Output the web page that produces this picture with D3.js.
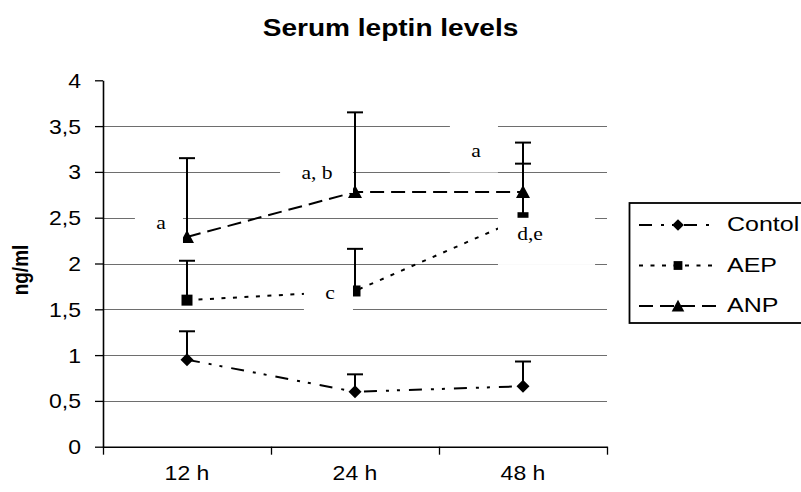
<!DOCTYPE html>
<html>
<head>
<meta charset="utf-8">
<script src="https://cdn.jsdelivr.net/npm/d3@7"></script>
<style>
  html, body { margin: 0; padding: 0; background: #fff; }
  svg { display: block; }
</style>
</head>
<body>
<script>
// ---------- data ----------
const categories = ["12 h", "24 h", "48 h"];
const seriesNames = ["Contol", "AEP", "ANP"];
const controlMean = [0.95, 0.60, 0.66];
const controlErr  = [0.31, 0.19, 0.27];
const aepMean     = [1.60, 1.70, 2.50];
const aepErr      = [0.43, 0.46, 0.59];
const anpMean     = [2.29, 2.78, 2.78];
const anpErr      = [0.86, 0.87, 0.54];
const yTicks = [0, 0.5, 1, 1.5, 2, 2.5, 3, 3.5, 4];
const yTickLabels = ["0", "0,5", "1", "1,5", "2", "2,5", "3", "3,5", "4"];
const titleText = "Serum leptin levels";
const yTitle = "ng/ml";
// significance letters (anchored in data space: category index offset, value)
const annoText = ["a", "a, b", "a", "c", "d,e"];
const annoX    = [-0.155, 0.774, 1.72, 0.851, 2.042];
const annoY    = [2.377, 2.923, 3.163, 1.612, 2.257];
// white label boxes in data space [x0, x1, yTop, yBottom]
const annoBox  = [
  [-0.31, -0.024, 2.73, 2.20],
  [0.554, 0.988, 3.27, 2.77],
  [1.565, 1.851, 3.507, 2.993],
  [0.696, 0.988, 1.962, 1.449],
  [1.851, 2.429, 2.499, 1.984]
];

// ---------- setup ----------
const W = 801, H = 492;
const svg = d3.select("body").append("svg").attr("width", W).attr("height", H);
const SANS = "'Liberation Sans', Arial, Helvetica, sans-serif";
const SERIF = "'Liberation Serif', 'Times New Roman', serif";

const x = d3.scaleBand().domain(categories).range([103, 607]).padding(0);
const xi = d3.scaleLinear().domain([-0.5, 2.5]).range([103, 607]);
const y = d3.scaleLinear().domain([0, 4]).range([446.7, 80.3]);
const cx = c => x(c) + x.bandwidth() / 2;

// ---------- gridlines ----------
svg.append("g").selectAll("line")
  .data(yTicks.filter(d => d > 0 && d < 4))
  .join("line")
  .attr("x1", 103).attr("x2", 607)
  .attr("y1", d => Math.round(y(d)) + 0.5).attr("y2", d => Math.round(y(d)) + 0.5)
  .attr("stroke", "#6e6e6e").attr("stroke-width", 1);

// ---------- axes ----------
const yAxis = svg.append("g").attr("transform", "translate(103,0)")
  .call(d3.axisLeft(y).tickValues(yTicks).tickSize(8).tickSizeOuter(0)
    .tickFormat((d, i) => yTickLabels[i]));
yAxis.select(".domain").attr("stroke", "#000").attr("stroke-width", 1.6);
yAxis.selectAll(".tick line").attr("stroke", "#000").attr("stroke-width", 1.3);
yAxis.selectAll(".tick text")
  .attr("x", null).attr("dy", null)
  .attr("transform", "translate(-22,7) scale(1.15,1)")
  .attr("font-family", SANS).attr("font-size", 20).attr("fill", "#000");

const xAxis = svg.append("g").attr("transform", `translate(0,${y(0)})`)
  .call(d3.axisBottom(xi).tickValues([-0.5, 0.5, 1.5, 2.5]).tickSize(8).tickSizeOuter(0).tickFormat(""));
xAxis.select(".domain").attr("stroke", "#000").attr("stroke-width", 1.6);
xAxis.selectAll(".tick line").attr("stroke", "#000").attr("stroke-width", 1.3);

svg.append("g").selectAll("text").data(categories).join("text")
  .attr("transform", d => `translate(${cx(d)},480) scale(1.15,1)`)
  .attr("text-anchor", "middle")
  .attr("font-family", SANS).attr("font-size", 20).attr("fill", "#000")
  .text(d => d);

// ---------- titles ----------
svg.append("text")
  .attr("transform", "translate(390.5,36) scale(1.22,1)")
  .attr("text-anchor", "middle")
  .attr("font-family", SANS).attr("font-weight", "bold").attr("font-size", 23)
  .text(titleText);

svg.append("text")
  .attr("transform", "translate(28,270) rotate(-90) scale(1,1.15)")
  .attr("text-anchor", "middle")
  .attr("font-family", SANS).attr("font-weight", "bold").attr("font-size", 19)
  .text(yTitle);

// ---------- series ----------
const series = [
  { name: seriesNames[0], mean: controlMean, err: controlErr, dash: "13,9,3,8,3,9", marker: "diamond" },
  { name: seriesNames[1], mean: aepMean, err: aepErr, dash: "4,7.5", marker: "square" },
  { name: seriesNames[2], mean: anpMean, err: anpErr, dash: "14,7", marker: "triangle" }
];

function markerPath(type, px, py, s) {
  const p = d3.path();
  if (type === "diamond") {
    const r = 6.5 * s;
    p.moveTo(px, py - r); p.lineTo(px + r, py); p.lineTo(px, py + r); p.lineTo(px - r, py); p.closePath();
  } else if (type === "square") {
    const r = 5.5 * s;
    p.rect(px - r, py - r, 2 * r, 2 * r);
  } else {
    const hw = 7 * s;
    p.moveTo(px, py - 7 * s); p.lineTo(px + hw, py + 6 * s); p.lineTo(px - hw, py + 6 * s); p.closePath();
  }
  return p.toString();
}

const line = d3.line().x((d, i) => cx(categories[i])).y(d => y(d));

const gSeries = svg.append("g");
series.forEach(s => {
  gSeries.append("path")
    .attr("d", line(s.mean))
    .attr("fill", "none").attr("stroke", "#000").attr("stroke-width", 2)
    .attr("stroke-dasharray", s.dash);
});
// error bars
series.forEach(s => {
  const g = gSeries.append("g");
  s.mean.forEach((m, i) => {
    const px = cx(categories[i]);
    g.append("line").attr("x1", px).attr("x2", px)
      .attr("y1", y(m)).attr("y2", y(m + s.err[i]))
      .attr("stroke", "#000").attr("stroke-width", 2);
    g.append("line").attr("x1", px - 8).attr("x2", px + 8)
      .attr("y1", y(m + s.err[i])).attr("y2", y(m + s.err[i]))
      .attr("stroke", "#000").attr("stroke-width", 2);
  });
});
// markers
series.forEach(s => {
  gSeries.append("g").selectAll("path").data(s.mean).join("path")
    .attr("d", (d, i) => markerPath(s.marker, cx(categories[i]), y(d), 1))
    .attr("fill", "#000");
});

// ---------- annotation boxes & letters ----------
svg.append("g").selectAll("rect").data(annoBox).join("rect")
  .attr("x", d => xi(d[0])).attr("width", d => xi(d[1]) - xi(d[0]))
  .attr("y", d => y(d[2])).attr("height", d => y(d[3]) - y(d[2]))
  .attr("fill", "#fff");

svg.append("g").selectAll("text").data(annoText).join("text")
  .attr("transform", (d, i) => `translate(${xi(annoX[i])},${y(annoY[i])}) scale(1.2,1)`)
  .attr("text-anchor", "middle")
  .attr("font-family", SERIF).attr("font-size", 18).attr("fill", "#000")
  .text(d => d);

// ---------- legend ----------
const lg = svg.append("g");
lg.append("rect").attr("x", 629.5).attr("y", 203).attr("width", 200).attr("height", 120)
  .attr("fill", "#fff").attr("stroke", "#000").attr("stroke-width", 1.8);
const legendRows = d3.scalePoint().domain(seriesNames).range([225, 306]);
series.forEach(s => {
  const ry = legendRows(s.name);
  lg.append("line").attr("x1", 639).attr("x2", 717).attr("y1", ry).attr("y2", ry)
    .attr("stroke", "#000").attr("stroke-width", 2).attr("stroke-dasharray", s.dash);
  lg.append("path").attr("d", markerPath(s.marker, 678, ry, s.marker === "square" ? 0.8 : 0.9)).attr("fill", "#000");
  lg.append("text")
    .attr("transform", `translate(727,${ry + 6}) scale(1.25,1)`)
    .attr("font-family", SANS).attr("font-size", 20).attr("fill", "#000")
    .text(s.name);
});
</script>
</body>
</html>
